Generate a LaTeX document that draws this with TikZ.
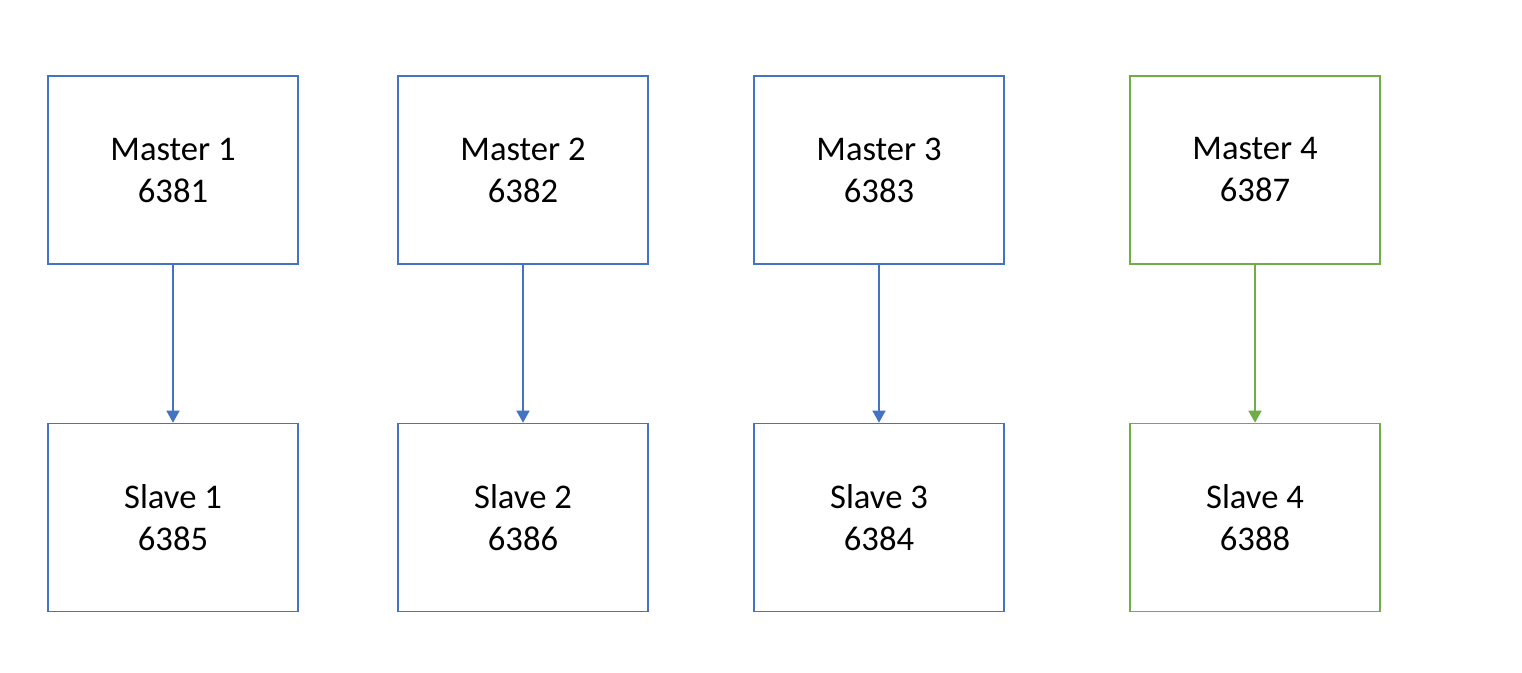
\documentclass[tikz,border=0pt]{standalone}
\usepackage{fontspec}
\setmainfont{Carlito}
\usetikzlibrary{arrows.meta}
\definecolor{linkBlue}{HTML}{4472C4}
\definecolor{linkGreen}{HTML}{70AD47}
\begin{document}
\begin{tikzpicture}[x=0.5pt,y=-0.5pt,
	redisbox/.style={draw=#1, line width=0.8pt, minimum width=125pt, minimum height=94pt,
		align=center, font=\fontsize{17.3}{21}\selectfont, inner sep=0pt},
	replink/.style={draw=#1, line width=0.8pt, -{Triangle[width=6.5pt,length=6pt]}}]
	
	% ---- Canvas ----
	\useasboundingbox (0,0) rectangle (1522,673);
	
	% ---- Master / slave pairs ----
	\foreach \x/\name/\col/\mport/\sport in {
		173/1/linkBlue/6381/6385,
		523/2/linkBlue/6382/6386,
		879/3/linkBlue/6383/6384,
		1255/4/linkGreen/6387/6388
	}
	{
		\node[redisbox=\col] (m\name) at (\x,170) {Master \name\\\mport};
		\node[redisbox=\col] (s\name) at (\x,517.5) {Slave \name\\\sport};
		\draw[replink=\col] (m\name) -- (s\name);
	}
	
\end{tikzpicture}
\end{document}
